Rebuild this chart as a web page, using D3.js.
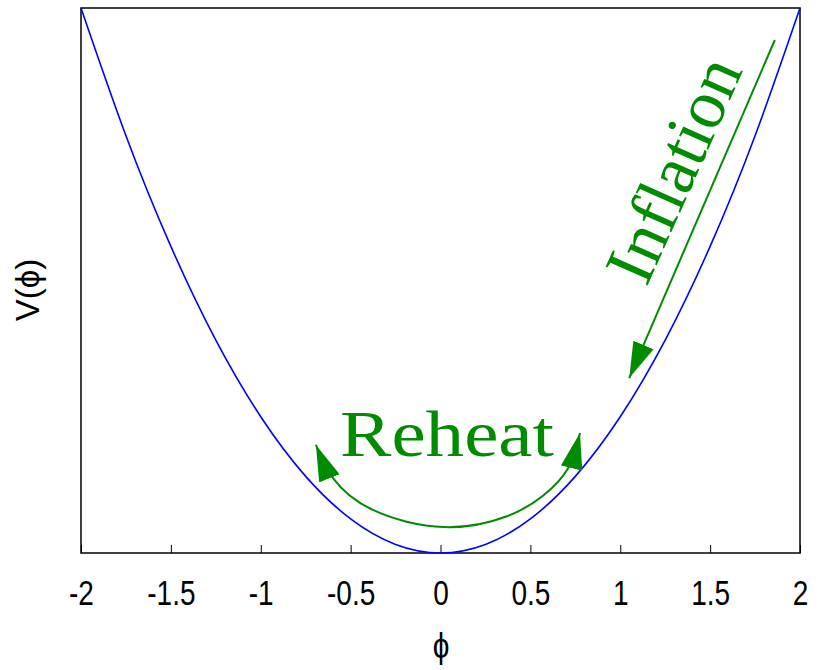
<!DOCTYPE html>
<html>
<head>
<meta charset="utf-8">
<script src="https://cdn.jsdelivr.net/npm/d3@7"></script>
<style>
  html, body { margin: 0; padding: 0; background: #fff; }
  svg { display: block; }
</style>
</head>
<body>
<svg id="chart" width="819" height="670"></svg>
<script>
// ---- data ----
const phiValues = [-2, -1.75, -1.5, -1.25, -1, -0.75, -0.5, -0.25, 0, 0.25, 0.5, 0.75, 1, 1.25, 1.5, 1.75, 2];
const potentialValues = [4, 3.0625, 2.25, 1.5625, 1, 0.5625, 0.25, 0.0625, 0, 0.0625, 0.25, 0.5625, 1, 1.5625, 2.25, 3.0625, 4];
const xTickValues = [-2, -1.5, -1, -0.5, 0, 0.5, 1, 1.5, 2];
const xTickLabels = ["-2", "-1.5", "-1", "-0.5", "0", "0.5", "1", "1.5", "2"];
const inflationPhi = [1.86, 1.05];
const inflationV = [3.765, 1.284];
const reheatPhi = [-0.693, -0.598, -0.376, 0.02, 0.37, 0.57, 0.709, 0.776];
const reheatV = [0.793, 0.55, 0.316, 0.19, 0.27, 0.42, 0.62, 0.88];
const labels = { x: "\u03D5", y: "V(\u03D5)", reheat: "Reheat", inflation: "Inflation" };

// ---- layout ----
const W = 819, H = 670;
const margin = { left: 81, top: 8, right: 19, bottom: 117 };
const iw = W - margin.left - margin.right;
const ih = H - margin.top - margin.bottom;
const green = "#008c00";

const svg = d3.select("#chart");
const defs = svg.append("defs");
defs.append("marker")
  .attr("id", "arrow")
  .attr("viewBox", "0 0 36 22")
  .attr("refX", 36).attr("refY", 11)
  .attr("markerWidth", 36).attr("markerHeight", 22)
  .attr("markerUnits", "userSpaceOnUse")
  .attr("orient", "auto-start-reverse")
  .append("path")
  .attr("d", "M0,0 L36,11 L0,22 Z")
  .attr("fill", green);

const g = svg.append("g").attr("transform", `translate(${margin.left},${margin.top})`);

const x = d3.scaleLinear().domain([-2, 2]).range([0, iw]);
const y = d3.scaleLinear().domain([0, 4]).range([ih, 0]);

// axis
const xAxis = d3.axisBottom(x)
  .tickValues(xTickValues)
  .tickFormat((d, i) => xTickLabels[i])
  .tickSizeInner(-8).tickSizeOuter(0);
const ax = g.append("g").attr("transform", `translate(0,${ih})`).call(xAxis);
ax.select(".domain").remove();
ax.selectAll(".tick line").attr("stroke", "#000").attr("stroke-width", 1);
ax.selectAll(".tick text")
  .attr("y", 0).attr("dy", null)
  .attr("transform", "translate(0,52) scale(0.8,1)")
  .attr("fill", "#000")
  .style("font-family", "'Liberation Sans', Arial, sans-serif")
  .style("font-size", "35px");

// frame
g.append("rect")
  .attr("x", 0).attr("y", 0).attr("width", iw).attr("height", ih)
  .attr("fill", "none").attr("stroke", "#000").attr("stroke-width", 1.5);

// potential curve
const pts = phiValues.map((p, i) => [p, potentialValues[i]]);
g.append("path")
  .datum(pts)
  .attr("fill", "none")
  .attr("stroke", "#0000ff")
  .attr("stroke-width", 1.6)
  .attr("d", d3.line().x(d => x(d[0])).y(d => y(d[1])).curve(d3.curveNatural));

// inflation arrow
const infl = inflationPhi.map((p, i) => [p, inflationV[i]]);
g.append("path")
  .datum(infl)
  .attr("fill", "none").attr("stroke", green).attr("stroke-width", 2)
  .attr("marker-end", "url(#arrow)")
  .attr("d", d3.line().x(d => x(d[0])).y(d => y(d[1])));

// reheat arc
const reh = reheatPhi.map((p, i) => [p, reheatV[i]]);
g.append("path")
  .datum(reh)
  .attr("fill", "none").attr("stroke", green).attr("stroke-width", 2)
  .attr("marker-start", "url(#arrow)")
  .attr("marker-end", "url(#arrow)")
  .attr("d", d3.line().x(d => x(d[0])).y(d => y(d[1])).curve(d3.curveNatural));

// texts
svg.append("text")
  .attr("x", 340).attr("y", 456)
  .attr("textLength", 214).attr("lengthAdjust", "spacingAndGlyphs")
  .attr("fill", green)
  .style("font-family", "'Liberation Serif', 'Times New Roman', serif")
  .style("font-size", "66px")
  .text(labels.reheat);

svg.append("text")
  .attr("transform", "translate(695,179) rotate(-66)")
  .attr("text-anchor", "middle")
  .attr("textLength", 238).attr("lengthAdjust", "spacingAndGlyphs")
  .attr("fill", green)
  .style("font-family", "'Liberation Serif', 'Times New Roman', serif")
  .style("font-size", "70px")
  .text(labels.inflation);

svg.append("text")
  .attr("transform", "translate(441,658) scale(0.85,1)")
  .attr("text-anchor", "middle")
  .attr("fill", "#000")
  .style("font-family", "'Liberation Sans', Arial, sans-serif")
  .style("font-size", "35px")
  .text(labels.x);

svg.append("text")
  .attr("transform", "translate(39,290) rotate(-90)")
  .attr("text-anchor", "middle")
  .attr("fill", "#000")
  .style("font-family", "'Liberation Sans', Arial, sans-serif")
  .style("font-size", "33px")
  .text(labels.y);
</script>
</body>
</html>
